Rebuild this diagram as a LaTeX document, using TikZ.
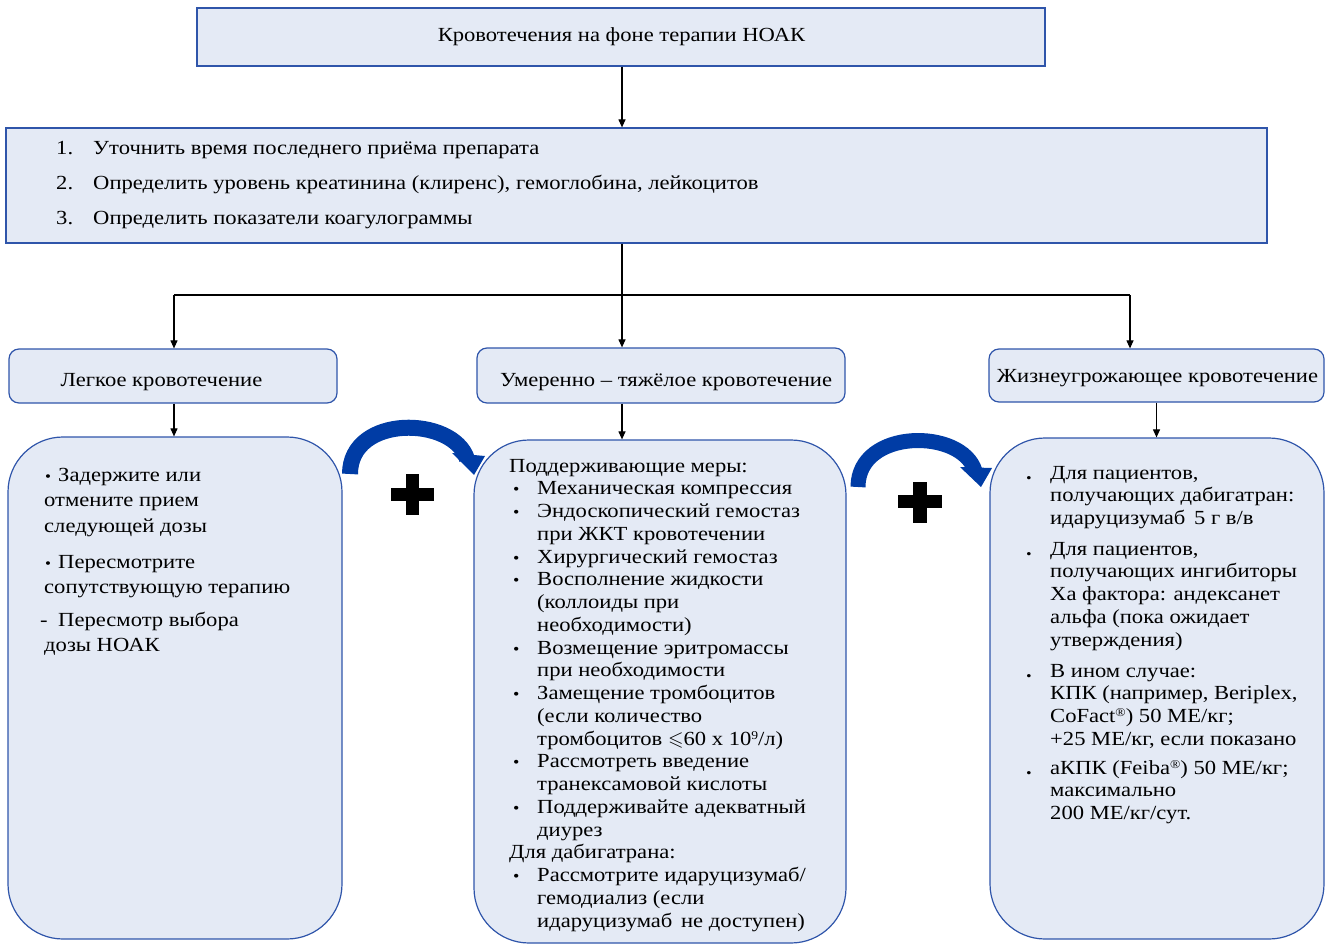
\documentclass[tikz,border=0pt]{standalone}
\usepackage{fontspec}
\usepackage{amssymb}
\setmainfont{Liberation Serif}[FakeStretch=1.13]
\usetikzlibrary{arrows.meta}
\definecolor{boxfill}{RGB}{228,234,245}
\definecolor{boxline}{RGB}{47,85,170}
\definecolor{arrblue}{RGB}{0,60,165}
\newcommand{\fs}{\fontsize{20}{22.75}\selectfont}
\newcommand{\lbul}{\makebox[14pt][l]{\hspace{1pt}{\fontsize{15}{15}\selectfont •}}}
\newcommand{\mbul}{\makebox[28pt][l]{\hspace{4pt}{\fontsize{16}{16}\selectfont •}}}
\newcommand{\rbul}{\makebox[25pt][l]{\hspace{1pt}\textbf{.}}}
\newcommand{\sups}[1]{\raisebox{6pt}{\fontsize{12}{12}\selectfont #1}}
\begin{document}
\begin{tikzpicture}[x=1pt,y=-1pt,
  box/.style={draw=boxline, fill=boxfill, line width=1.2pt, inner sep=0},
  hbox/.style={box, rounded corners=10pt},
  bigbox/.style={box, rounded corners=55pt},
  conn/.style={line width=1.1pt, draw=black},
  arr/.style={conn, -{Triangle[width=7pt,length=8pt]}},
  txt/.style={inner sep=0, anchor=base west, font=\fs},
  ctxt/.style={inner sep=0, anchor=base, font=\fs},
  band/.style={draw=arrblue, line cap=butt}]
\useasboundingbox (0,0) rectangle (1327,944);

% boxes
\node[box, minimum width=848pt, minimum height=58pt] (top) at (621,37) {};
\node[box, minimum width=1261pt, minimum height=115pt] (list) at (636.5,185.5) {};
\node[hbox, minimum width=328pt, minimum height=54pt] (hl) at (173,376) {};
\node[hbox, minimum width=368pt, minimum height=55pt] (hm) at (661,375.5) {};
\node[hbox, minimum width=335pt, minimum height=53pt] (hr) at (1156.5,375.5) {};
\node[bigbox, minimum width=334pt, minimum height=502pt] (bl) at (175,688) {};
\node[bigbox, minimum width=372pt, minimum height=503pt] (bm) at (660,691.5) {};
\node[bigbox, minimum width=334pt, minimum height=501pt] (br) at (1157,688.5) {};

% connectors
\coordinate (split) at (622,295);
\coordinate (jl) at (174,295);
\coordinate (jr) at (1130,295);
\draw[arr] (top.south -| split) -- (list.north -| split);
\draw[conn] (list.south -| split) -- (split);
\draw[conn] (jl) -- (jr);
\draw[arr] (jl) -- (jl |- hl.north);
\draw[arr] (split) -- (split |- hm.north);
\draw[arr] (jr) -- (jr |- hr.north);
\draw[arr] (hl.south -| jl) -- (jl |- bl.north);
\draw[arr] (hm.south -| split) -- (split |- bm.north);
\draw[arr] (hr.south) -- (hr.south |- br.north);

% curved arrows
\draw[band, line width=16pt] (350,474) .. controls (350,414) and (453.5,416) .. (467,459);
\fill[arrblue] (452,453) -- (485,456) -- (474,475) -- cycle;
\draw[band, line width=15pt] (858,487) .. controls (858,428) and (962,428) .. (975,471);
\fill[arrblue] (960,467) -- (992,468) -- (981,487) -- cycle;

% plus signs
\fill[black] (391,488) rectangle (434,501);
\fill[black] (406,474) rectangle (419,515);
\fill[black] (898,495) rectangle (942,508);
\fill[black] (913,482) rectangle (927,523);

% texts
\node[ctxt] (toptext) at (621.5,42) {Кровотечения на фоне терапии НОАК};
\node[txt] (listtext) at (56,155) {\fontsize{20}{35}\selectfont\begin{tabular}[t]{@{}l@{}l@{}}
\makebox[37pt][l]{1.} & Уточнить время последнего приёма препарата\\
\makebox[37pt][l]{2.} & Определить уровень креатинина (клиренс), гемоглобина, лейкоцитов\\
\makebox[37pt][l]{3.} & Определить показатели коагулограммы
\end{tabular}};
\node[ctxt] (hltext) at (161.5,386) {Легкое кровотечение};
\node[ctxt] (hmtext) at (666,386) {Умеренно – тяжёлое кровотечение};
\node[ctxt] (hrtext) at (1157.5,382) {Жизнеугрожающее кровотечение};

\node[txt] (l1) at (44,481) {\fontsize{20}{25.5}\selectfont\begin{tabular}[t]{@{}l@{}}
\lbul Задержите или\\ отмените прием\\ следующей дозы\end{tabular}};
\node[txt] (l2) at (44,568) {\fontsize{20}{25.5}\selectfont\begin{tabular}[t]{@{}l@{}}
\lbul Пересмотрите\\ сопутствующую терапию\end{tabular}};
\node[txt] (l3) at (40,626) {\fontsize{20}{25.5}\selectfont\begin{tabular}[t]{@{}l@{}}
\makebox[18pt][l]{-}Пересмотр выбора\\ \hspace{4pt}дозы НОАК\end{tabular}};

\node[txt] (mtext) at (509,472) {\fs\begin{tabular}[t]{@{}l@{}l@{}}
\multicolumn{2}{@{}l@{}}{Поддерживающие меры:}\\
\mbul & Механическая компрессия\\
\mbul & Эндоскопический гемостаз\\
 & при ЖКТ кровотечении\\
\mbul & Хирургический гемостаз\\
\mbul & Восполнение жидкости\\
 & (коллоиды при\\
 & необходимости)\\
\mbul & Возмещение эритромассы\\
 & при необходимости\\
\mbul & Замещение тромбоцитов\\
 & (если количество\\
 & тромбоцитов $\leqslant$60 x 10\sups{9}/л)\\
\mbul & Рассмотреть введение\\
 & транексамовой кислоты\\
\mbul & Поддерживайте адекватный\\
 & диурез\\
\multicolumn{2}{@{}l@{}}{Для дабигатрана:}\\
\mbul & Рассмотрите идаруцизумаб/\\
 & гемодиализ (если\\
 & идаруцизумаб\hspace{3pt} не доступен)
\end{tabular}};

\node[txt] (r1) at (1025,479) {\fs\begin{tabular}[t]{@{}l@{}l@{}}
\rbul & Для пациентов,\\
 & получающих дабигатран:\\
 & идаруцизумаб\hspace{3pt} 5 г в/в
\end{tabular}};
\node[txt] (r2) at (1025,555) {\fs\begin{tabular}[t]{@{}l@{}l@{}}
\rbul & Для пациентов,\\
 & получающих ингибиторы\\
 & Ха фактора: андексанет\\
 & альфа (пока ожидает\\
 & утверждения)
\end{tabular}};
\node[txt] (r3) at (1025,677) {\fs\begin{tabular}[t]{@{}l@{}l@{}}
\rbul & В ином случае:\\
 & КПК (например, Beriplex,\\
 & CoFact\sups{®}) 50 МЕ/кг;\\
 & +25 МЕ/кг, если показано
\end{tabular}};
\node[txt] (r4) at (1025,774) {\fs\begin{tabular}[t]{@{}l@{}l@{}}
\rbul & аКПК (Feiba\sups{®}) 50 МЕ/кг;\\
 & максимально\\
 & 200 МЕ/кг/сут.
\end{tabular}};
\end{tikzpicture}
\end{document}
